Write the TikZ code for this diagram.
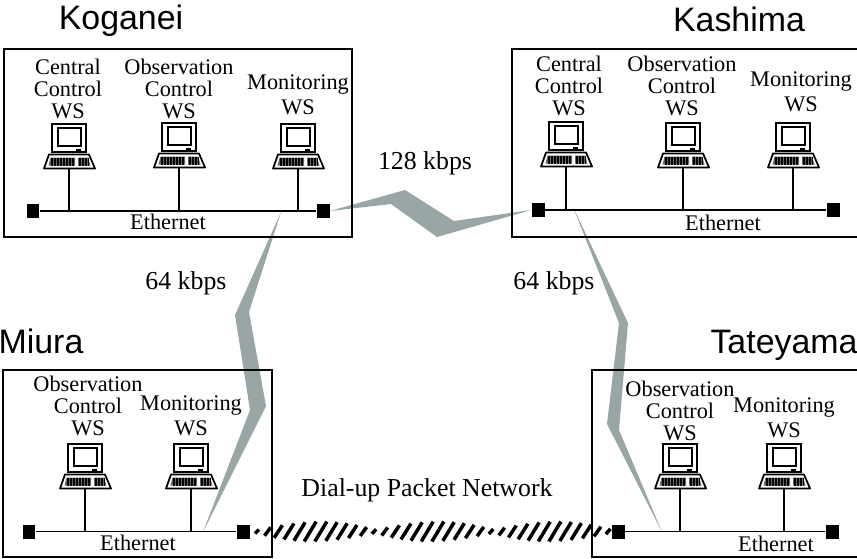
\documentclass[tikz,border=0pt]{standalone}
\usepackage{fontspec}
\setmainfont{Liberation Serif}
\newfontfamily\sitefont{Liberation Sans}
\usetikzlibrary{calc, backgrounds}
\definecolor{link-gray}{HTML}{9AA5A5}
\tikzset{
  site/.style={draw=black, line width=0.85pt},
  wire/.style={draw=black, line width=0.85pt},
  hub/.style={fill=black, inner sep=0pt, minimum width=0.26cm, minimum height=0.28cm},
  wslabel/.style={align=center, inner sep=0pt, font=\fontsize{12.7}{12.7}\selectfont},
  netlabel/.style={inner sep=0pt, font=\fontsize{12.7}{12.7}\selectfont},
  ratelabel/.style={inner sep=0pt, font=\fontsize{14.7}{14.7}\selectfont},
  sitename/.style={inner sep=0pt, anchor=base, font=\fontsize{19.3}{19.3}\sitefont},
  bolt/.style={fill=link-gray},
  hatch/.style={draw=black, line width=0.07cm},
}
\newcommand{\wsicon}[3]{%  \wsicon{x}{y}{name}
  \begin{scope}[shift={(#1,#2)}]
    \draw[line width=1pt] (-17,0) rectangle (17,28);
    \draw[line width=1pt] (-11,4) rectangle (12,22);
    \fill[black] (7,25) rectangle (12,28);
    \draw[line width=1pt, line join=round] (-20,30.5) -- (20,30.5) -- (26,44.5) -- (-25,44.5) -- cycle;
    \fill[black!60] (-18.5,33.5) -- (6,33.5) -- (6,41.5) -- (-20.5,41.5) -- cycle;
    \fill[black!60] (9,33.5) -- (19,33.5) -- (21.5,41.5) -- (9,41.5) -- cycle;
    \foreach \k in {-18,-16.5,...,5,10,11.5,...,20}
      \draw[line width=0.3pt] (\k,33.5) -- (\k,41.5);
    \coordinate (#3) at (0,44.5);
  \end{scope}}

\begin{document}
\begin{tikzpicture}[x=0.02cm, y=-0.02cm]
    \useasboundingbox (0,0) rectangle (857,558);
    % ── Koganei
    \node[sitename] (koganeiName) at (121,29.5) {Koganei};
    \node[site, draw, minimum width=6.96cm, minimum height=3.76cm, inner sep=0pt] (koganeiBox) at (178,143) {};
    \node[hub] (kogL) at (33,211) {};
    \node[hub] (kogR) at (323,211) {};
    \node[netlabel] (kogNet) at (168,222) {Ethernet};
    \draw[wire] (kogL) -- (kogR);
    \node[wslabel] (kogCentral) at (68,89) {Central\\Control\\WS};
    \node[wslabel] (kogObs) at (179,89) {Observation\\Control\\WS};
    \node[wslabel] (kogMon) at (298,95) {Monitoring\\[1.8pt]WS};
    \wsicon{69}{124}{kogA}\wsicon{179}{123}{kogB}\wsicon{298}{124}{kogC}
    \draw[wire] (kogA) -- (kogA |- kogL);
    \draw[wire] (kogB) -- (kogB |- kogL);
    \draw[wire] (kogC) -- (kogC |- kogL);
    % ── Kashima
    \node[sitename] (kashimaName) at (739,31.5) {Kashima};
    \draw[site] (857,49) -- (512,49) -- (512,237) -- (857,237);
    \node[hub] (kasL) at (538,210) {};
    \node[hub] (kasR) at (833,210) {};
    \node[netlabel] (kasNet) at (723,223) {Ethernet};
    \draw[wire] (kasL) -- (kasR);
    \node[wslabel] (kasCentral) at (569,86) {Central\\Control\\WS};
    \node[wslabel] (kasObs) at (682,86) {Observation\\Control\\WS};
    \node[wslabel] (kasMon) at (801,92) {Monitoring\\[1.8pt]WS};
    \wsicon{566}{122}{kasA}\wsicon{683}{123}{kasB}\wsicon{793}{123}{kasC}
    \draw[wire] (kasA) -- (kasA |- kasL);
    \draw[wire] (kasB) -- (kasB |- kasL);
    \draw[wire] (kasC) -- (kasC |- kasL);
    % ── Miura
    \node[sitename] (miuraName) at (41,353) {Miura};
    \node[site, draw, minimum width=5.38cm, minimum height=3.74cm, inner sep=0pt] (miuraBox) at (137.5,463.5) {};
    \node[hub] (miuraL) at (29,531.5) {};
    \node[hub] (miuraR) at (243,531.5) {};
    \node[netlabel] (miuraNet) at (138,543) {Ethernet};
    \draw[wire] (miuraL) -- (miuraR);
    \node[wslabel] (miuraObs) at (88,406) {Observation\\Control\\WS};
    \node[wslabel] (miuraMon) at (191,416) {Monitoring\\[1.8pt]WS};
    \wsicon{85}{444}{miuraA}\wsicon{191}{444}{miuraB}
    \draw[wire] (miuraA) -- (miuraA |- miuraL);
    \draw[wire] (miuraB) -- (miuraB |- miuraL);
    % ── Tateyama
    \node[sitename] (tateyamaName) at (784,353) {Tateyama};
    \draw[site] (857,370) -- (592,370) -- (592,557) -- (857,557);
    \node[hub] (tateL) at (618,531.5) {};
    \node[hub] (tateR) at (832,531.5) {};
    \node[netlabel] (tateNet) at (776,544) {Ethernet};
    \draw[wire] (tateL) -- (tateR);
    \node[wslabel] (tateObs) at (680,411) {Observation\\Control\\WS};
    \node[wslabel] (tateMon) at (784,418) {Monitoring\\[1.8pt]WS};
    \wsicon{680}{444}{tateA}\wsicon{784}{444}{tateB}
    \draw[wire] (tateA) -- (tateA |- tateL);
    \draw[wire] (tateB) -- (tateB |- tateL);
    % ── Links
    \node[ratelabel] (rateTop) at (425,163) {128 kbps};
    \node[ratelabel] (rateLeft) at (186,283) {64 kbps};
    \node[ratelabel] (rateRight) at (554,283) {64 kbps};
    \node[ratelabel] (rateDial) at (427,490) {Dial-up Packet Network};
    \coordinate (kogTap) at (281,212);
    \coordinate (miuraTap) at (203,532);
    \coordinate (kasTap) at (573,207);
    \coordinate (tateTap) at (662,532);
    \begin{scope}[on background layer]
      \fill[bolt] (kogR.east) -- (405,190) -- (454,221) -- (kasL.west) -- (437,237) -- (391,204) -- cycle;
      \fill[bolt] (kogTap) -- (249,312) -- (266,406) -- (miuraTap) -- (250,410) -- (235,315) -- cycle;
      \fill[bolt] (kasTap) -- (628,323) -- (619,430) -- (tateTap) -- (607,424) -- (619,323) -- cycle;
    \end{scope}
    \foreach \i in {0,...,33} {
      \pgfmathsetmacro{\px}{14+10.64*\i}
      \pgfmathsetmacro{\hh}{2+8*abs(sin((\px-14)*1.525))}
      \pgfmathsetmacro{\dd}{0.5*\hh+1}
      \pgfmathsetmacro{\tt}{\px/375}
      \draw[hatch] ($(miuraR)!\tt!(tateL)+(-\dd,\hh)$) -- ($(miuraR)!\tt!(tateL)+(\dd,-\hh)$);
    }
\end{tikzpicture}
\end{document}
